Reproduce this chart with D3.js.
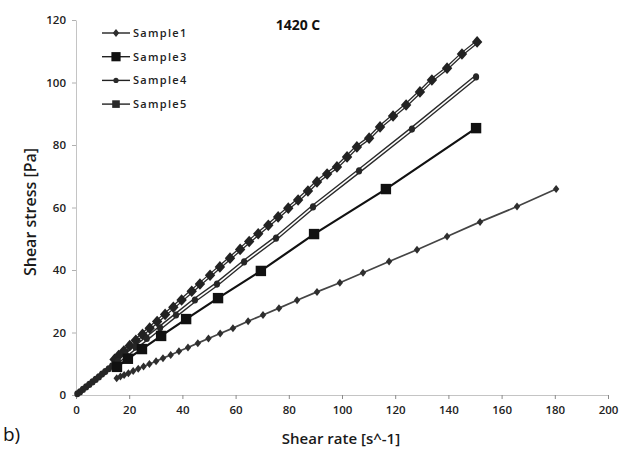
<!DOCTYPE html>
<html>
<head>
<meta charset="utf-8">
<script src="https://cdn.jsdelivr.net/npm/d3@7"></script>
<style>
  html, body { margin: 0; padding: 0; background: #fff; }
  svg { display: block; }
  text { font-family: "Open Sans", "Liberation Sans", sans-serif; }
</style>
</head>
<body>
<svg id="chart" width="620" height="450"></svg>
<script>
// Flow curves at 1420 C: shear stress [Pa] vs shear rate [1/s]
const seriesNames = ["Sample1", "Sample3", "Sample4", "Sample5"];

const sample1Rate = [15.3, 16.7, 18.1, 19.7, 21.5, 23.4, 25.4, 27.6, 30.1, 32.7, 35.6, 38.7, 42.1, 45.8, 49.8, 54.2,
  59.0, 64.7, 70.3, 76.3, 83.1, 90.6, 99.2, 107.9, 117.7, 128.2, 139.5, 151.9, 165.8, 180.5];
const sample1Stress = [5.4, 5.9, 6.4, 7.0, 7.7, 8.4, 9.1, 9.9, 10.8, 11.8, 12.8, 14.0, 15.2, 16.6, 18.1, 19.7,
  21.4, 23.6, 25.6, 27.8, 30.3, 33.0, 35.9, 39.1, 42.7, 46.5, 50.7, 55.4, 60.3, 65.9];

const sample3Rate = [15.4, 19.5, 24.8, 32.0, 41.4, 53.4, 69.5, 89.5, 116.5, 150.4];
const sample3Stress = [9.0, 11.6, 14.7, 18.9, 24.3, 31.0, 39.7, 51.5, 65.9, 85.4];

const sample4Rate = [0.5, 1.5, 2.6, 3.8, 5.0, 6.2, 7.4, 8.6, 9.8, 11.0, 12.3, 13.6, 15.8, 18.8, 22.4, 26.6,
  31.6, 37.6, 44.7, 53.0, 63.2, 75.2, 89.1, 106.4, 126.3, 150.4];
const sample4Stress = [0.4, 1.0, 1.8, 2.6, 3.4, 4.2, 5.0, 5.8, 6.7, 7.5, 8.4, 9.3, 10.8, 12.8, 15.3, 18.1,
  21.5, 25.6, 30.4, 35.5, 42.6, 50.2, 60.2, 71.7, 85.1, 101.8];

const sample5Rate = [14.5, 16.0, 18.0, 20.2, 22.5, 25.0, 27.7, 30.5, 33.5, 36.6, 39.7, 43.5, 46.6, 50.4, 54.1,
  57.9, 61.7, 65.1, 68.5, 72.3, 76.0, 79.8, 83.5, 87.2, 90.6, 94.4, 98.1, 101.9, 105.6, 110.2, 114.3, 119.2,
  124.1, 129.3, 133.8, 139.5, 145.1, 150.8];
const sample5Stress = [11.4, 12.6, 14.1, 15.8, 17.5, 19.4, 21.4, 23.5, 25.8, 28.1, 30.4, 33.2, 35.5, 38.3, 41.0,
  43.8, 46.6, 49.1, 51.6, 54.3, 57.0, 59.8, 62.4, 65.3, 68.2, 70.7, 73.0, 76.2, 79.4, 82.2, 85.8, 89.3,
  92.8, 97.0, 100.8, 104.6, 109.1, 113.0];

const xTickValues = [0, 20, 40, 60, 80, 100, 120, 140, 160, 180, 200];
const yTickValues = [0, 20, 40, 60, 80, 100, 120];

const chartTitle = "1420 C";
const xTitle = "Shear rate [s^-1]";
const yTitle = "Shear stress [Pa]";
const panelLabel = "b)";

const zip = (xs, ys) => xs.map((v, i) => ({ x: v, y: ys[i] }));
const series = [
  { name: seriesNames[0], data: zip(sample1Rate, sample1Stress), kind: "diamondSmall" },
  { name: seriesNames[1], data: zip(sample3Rate, sample3Stress), kind: "squareBig" },
  { name: seriesNames[2], data: zip(sample4Rate, sample4Stress), kind: "circle" },
  { name: seriesNames[3], data: zip(sample5Rate, sample5Stress), kind: "diamondMid" }
];

const svg = d3.select("#chart");
const x = d3.scaleLinear().domain([0, 200]).range([76, 608]);
const y = d3.scaleLinear().domain([0, 120]).range([395, 20]);

// axes
const xAxis = svg.append("g").attr("transform", `translate(0,${y(0)})`)
  .call(d3.axisBottom(x).tickValues(xTickValues).tickSize(4).tickSizeOuter(0).tickPadding(7));
xAxis.select(".domain").attr("stroke", "#c4c4c4");
xAxis.selectAll(".tick line").attr("stroke", "#8a8a8a");
xAxis.selectAll(".tick text").attr("fill", "#222").attr("font-size", 11.5).attr("font-weight", 600)
  .attr("font-family", "'Open Sans', sans-serif");

const yAxis = svg.append("g").attr("transform", `translate(${x(0)},0)`)
  .call(d3.axisLeft(y).tickValues(yTickValues).tickSize(4).tickSizeOuter(0).tickPadding(6));
yAxis.select(".domain").attr("stroke", "#c4c4c4");
yAxis.selectAll(".tick line").attr("stroke", "#b0b0b0");
yAxis.selectAll(".tick text").attr("fill", "#222").attr("font-size", 11.5).attr("font-weight", 600)
  .attr("font-family", "'Open Sans', sans-serif");

// marker drawing
function drawMarker(g, kind) {
  if (kind === "diamondSmall") {
    g.append("path").attr("d", "M0,-4L3.2,0L0,4L-3.2,0Z").attr("fill", "#2e2e2e");
  } else if (kind === "squareBig") {
    g.append("rect").attr("x", -5.2).attr("y", -5.2).attr("width", 10.4).attr("height", 10.4).attr("fill", "#111");
  } else if (kind === "circle") {
    g.append("ellipse").attr("rx", 3.1).attr("ry", 3.6).attr("fill", "#262626");
  } else if (kind === "diamondMid") {
    g.append("path").attr("d", "M0,-5.8L5.2,0L0,5.8L-5.2,0Z").attr("fill", "#222");
  }
}

const line = d3.line().x(d => x(d.x)).y(d => y(d.y));
const plot = svg.append("g");

// Sample1: thin dark grey line
plot.append("path").datum(series[0].data).attr("d", line)
  .attr("fill", "none").attr("stroke", "#444").attr("stroke-width", 1.7);
// Sample3: solid black line
plot.append("path").datum(series[1].data).attr("d", line)
  .attr("fill", "none").attr("stroke", "#111").attr("stroke-width", 2.2);
// Sample4 and Sample5: outlined double line
[series[2], series[3]].forEach((s, i) => {
  plot.append("path").datum(s.data).attr("d", line)
    .attr("fill", "none").attr("stroke", "#2a2a2a").attr("stroke-width", i === 0 ? 4.4 : 3.8);
  plot.append("path").datum(s.data).attr("d", line)
    .attr("fill", "none").attr("stroke", "#fff").attr("stroke-width", i === 0 ? 1.6 : 1.2);
});

// markers (Sample5 first so lower series sit on top)
[series[3], series[2], series[1], series[0]].forEach(s => {
  plot.append("g").selectAll("g").data(s.data).join("g")
    .attr("transform", d => `translate(${x(d.x)},${y(d.y)})`)
    .each(function () { drawMarker(d3.select(this), s.kind); });
});

// legend
const legendKinds = ["diamondSmall", "squareBig", "circle", "squareMid"];
const legend = svg.append("g").attr("transform", "translate(102,33)");
series.forEach((s, i) => {
  const row = legend.append("g").attr("transform", `translate(0,${i * 23.7})`);
  row.append("line").attr("x1", 0).attr("x2", 28).attr("y1", 0).attr("y2", 0)
    .attr("stroke", "#222").attr("stroke-width", 1.4);
  const m = row.append("g").attr("transform", "translate(14,0)");
  if (legendKinds[i] === "squareMid") {
    m.append("rect").attr("x", -3.8).attr("y", -3.8).attr("width", 7.6).attr("height", 7.6).attr("fill", "#2a2a2a");
  } else if (legendKinds[i] === "circle") {
    m.append("circle").attr("r", 2.6).attr("fill", "#2a2a2a");
  } else if (legendKinds[i] === "squareBig") {
    m.append("rect").attr("x", -4.6).attr("y", -4.6).attr("width", 9.2).attr("height", 9.2).attr("fill", "#111");
  } else {
    drawMarker(m, legendKinds[i]);
  }
  row.append("text").attr("x", 31).attr("y", 4).text(s.name)
    .attr("font-size", 11).attr("font-weight", 600).attr("letter-spacing", 1.3)
    .attr("fill", "#222").attr("font-family", "'Liberation Sans', Arial, sans-serif");
});

// titles
svg.append("text").attr("x", 298).attr("y", 30).attr("text-anchor", "middle")
  .attr("font-size", 14).attr("font-weight", 700).attr("fill", "#111").text(chartTitle);
svg.append("text").attr("x", 341).attr("y", 444).attr("text-anchor", "middle")
  .attr("font-size", 15).attr("font-weight", 600).attr("fill", "#1a1a1a").text(xTitle);
svg.append("text").attr("transform", "translate(36,212) rotate(-90)").attr("text-anchor", "middle")
  .attr("font-size", 16).attr("font-weight", 600).attr("fill", "#1a1a1a").text(yTitle);
svg.append("text").attr("x", 3).attr("y", 441)
  .attr("font-family", "'Liberation Sans', Arial, sans-serif")
  .attr("font-size", 19).attr("fill", "#111").text(panelLabel);
</script>
</body>
</html>
